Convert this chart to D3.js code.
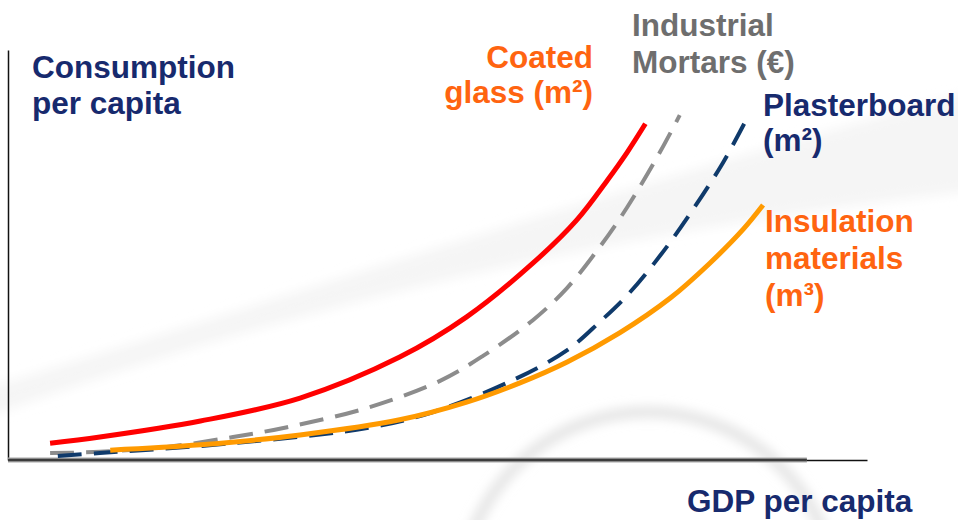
<!DOCTYPE html>
<html>
<head>
<meta charset="utf-8">
<script src="https://cdn.jsdelivr.net/npm/d3@7/dist/d3.min.js"></script>
<style>
  html, body { margin: 0; padding: 0; background: #fff; }
  svg { display: block; }
  text { font-family: "Liberation Sans", Arial, sans-serif; font-weight: bold; font-size: 31.5px; }
</style>
</head>
<body>
<figure id="chart" style="margin:0"></figure>
<script>
// GDP per capita index (x) vs consumption per capita index (y)
const coatedGlass = [
  [4.9, 4.1], [10.7, 5.6], [22.4, 9.5], [34.0, 15.1], [45.6, 25.1], [53.4, 34.9],
  [61.1, 48.0], [66.2, 58.5], [69.8, 68.3], [72.1, 75.1], [74.2, 82.0]
];
const industrialMortars = [
  [4.9, 1.7], [10.7, 2.0], [18.5, 3.2], [26.2, 5.6], [32.5, 8.0], [41.8, 12.7],
  [50.3, 19.3], [55.3, 25.4], [61.1, 34.1], [65.1, 42.0], [68.9, 52.0],
  [72.1, 61.7], [75.9, 75.1], [78.2, 84.1]
];
const plasterboard = [
  [5.8, 1.0], [10.7, 1.7], [26.2, 4.1], [41.8, 7.8], [49.5, 11.7], [58.8, 19.5],
  [65.1, 26.8], [68.9, 33.7], [72.1, 40.2], [75.9, 49.8], [79.7, 61.0],
  [83.2, 72.4], [85.8, 82.4]
];
const insulation = [
  [11.9, 2.4], [22.4, 3.7], [34.0, 6.1], [45.6, 9.8], [53.4, 14.1], [59.6, 18.8],
  [65.1, 23.9], [71.2, 31.0], [77.1, 39.5], [81.7, 48.0], [85.6, 56.3], [87.9, 62.2]
];

const width = 958;
const height = 520;

const svg = d3.select("figure#chart")
  .append("svg")
  .attr("width", width)
  .attr("height", height);

const x = d3.scaleLinear().domain([0, 100]).range([8, 867]);
const y = d3.scaleLinear().domain([0, 100]).range([460, 50]);

// faint background swooshes
const defs = svg.append("defs");
defs.append("filter").attr("id", "blur").attr("x", "-20%").attr("y", "-20%")
  .attr("width", "140%").attr("height", "140%")
  .append("feGaussianBlur").attr("stdDeviation", 6);

svg.append("path")
  .attr("d", "M -20 390 C 250 310, 600 190, 980 90 L 980 190 C 650 225, 300 300, -20 420 Z")
  .attr("fill", "#f5f5f5")
  .attr("filter", "url(#blur)");

svg.append("circle")
  .attr("cx", 648).attr("cy", 600).attr("r", 188)
  .attr("fill", "none")
  .attr("stroke", "#dedede")
  .attr("stroke-width", 9)
  .attr("filter", "url(#blur)");

// axes
svg.append("g")
  .attr("transform", "translate(" + x(0) + ",0)")
  .call(d3.axisLeft(y).ticks(0).tickSizeOuter(0))
  .select(".domain")
  .attr("stroke", "#111")
  .attr("stroke-width", 1.5);

svg.append("g")
  .attr("transform", "translate(0," + y(0) + ")")
  .call(d3.axisBottom(x).ticks(0).tickSizeOuter(0))
  .select(".domain")
  .attr("stroke", "#111")
  .attr("stroke-width", 1.5);

// heavier shaded stretch of the x axis
svg.append("line")
  .attr("x1", x(0)).attr("x2", x(93))
  .attr("y1", y(0)).attr("y2", y(0))
  .attr("stroke", "#a8a8a8").attr("stroke-width", 5);
svg.append("line")
  .attr("x1", x(0)).attr("x2", x(93))
  .attr("y1", y(0)).attr("y2", y(0))
  .attr("stroke", "#3c3c3c").attr("stroke-width", 2.5);

const line = d3.line()
  .x(d => x(d[0]))
  .y(d => y(d[1]))
  .curve(d3.curveCatmullRom.alpha(0.5));

const series = [
  { data: coatedGlass, color: "#ff0000", dash: null },
  { data: industrialMortars, color: "#8c8c8c", dash: "24,12" },
  { data: plasterboard, color: "#0f3a6b", dash: "24,12" },
  { data: insulation, color: "#ff9a00", dash: null }
];

svg.selectAll("path.curve")
  .data(series)
  .enter()
  .append("path")
  .attr("class", "curve")
  .attr("d", d => line(d.data))
  .attr("fill", "none")
  .attr("stroke", d => d.color)
  .attr("stroke-width", d => d.dash ? 4 : 5)
  .attr("stroke-dasharray", d => d.dash);

// labels
const navy = "#172a6e";
const orange = "#ff6410";
const grey = "#6e6e6e";

const labels = [
  { lines: ["Consumption", "per capita"], x: 32, y: 78, dy: 36, color: navy, anchor: "start" },
  { lines: ["Coated", "glass (m²)"], x: 593, y: 68, dy: 35, color: orange, anchor: "end" },
  { lines: ["Industrial", "Mortars (€)"], x: 632, y: 36, dy: 37, color: grey, anchor: "start" },
  { lines: ["Plasterboard", "(m²)"], x: 763, y: 116, dy: 35, color: navy, anchor: "start" },
  { lines: ["Insulation", "materials", "(m³)"], x: 765, y: 232, dy: 37, color: orange, anchor: "start" },
  { lines: ["GDP per capita"], x: 687, y: 512, dy: 0, color: navy, anchor: "start" }
];

labels.forEach(l => {
  const t = svg.append("text")
    .attr("x", l.x)
    .attr("y", l.y)
    .attr("fill", l.color)
    .style("text-anchor", l.anchor);
  l.lines.forEach((s, i) => {
    t.append("tspan")
      .attr("x", l.x)
      .attr("y", l.y + i * l.dy)
      .text(s);
  });
});
</script>
</body>
</html>
